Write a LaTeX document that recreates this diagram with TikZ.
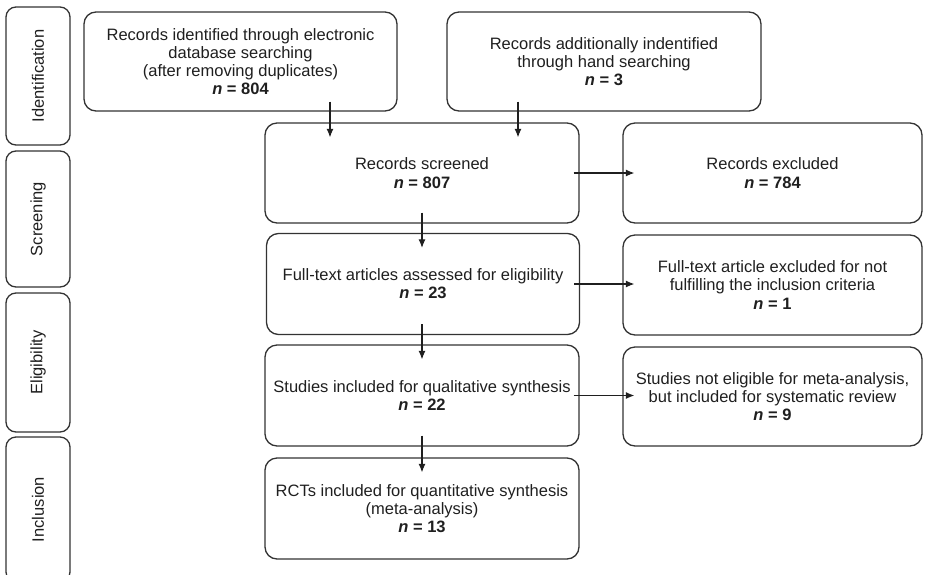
\documentclass[tikz,border=0pt]{standalone}
\usepackage{fontspec}
\setmainfont{Liberation Sans}
\usetikzlibrary{arrows.meta}
\newcommand{\nval}[1]{\textbf{\textit{n} = #1}}

\begin{document}
\begin{tikzpicture}[x=1pt,y=-1pt,
  box/.style={draw=black!80,line width=1.3pt,rounded corners=12pt,align=center,
    minimum width=314pt,minimum height=100pt,text=black!88,
    font=\fontsize{16.5}{18.2}\selectfont},
  side/.style={draw=black!80,line width=1.3pt,rounded corners=10pt,rotate=90,
    minimum height=64pt,text=black!88,font=\fontsize{16.5}{18.2}\selectfont},
  arr/.style={-{Latex[length=8.5pt,width=7pt]},line width=1.1pt,black!88}]
  \clip (0,0) rectangle (927,574);
  % stage tabs on the left
  \node[side,minimum width=138pt] (tid) at (38,76) {Identification};
  \node[side,minimum width=136pt] (tscr) at (38,219) {Screening};
  \node[side,minimum width=139pt] (telig) at (38,362.5) {Eligibility};
  \node[side,minimum width=145pt] (tincl) at (38,509.5) {Inclusion};
  % main column
  \node[box,minimum width=313pt,minimum height=99pt] (id1) at (240.5,61.5)
    {Records identified through electronic\\database searching\\(after removing duplicates)\\\nval{804}};
  \node[box,minimum height=99pt] (id2) at (604,61.5)
    {Records additionally indentified\\through hand searching\\\nval{3}};
  \node[box] (scr) at (422,173) {Records screened\\\nval{807}};
  \node[box,minimum width=313pt,minimum height=101pt] (full) at (423,284)
    {Full-text articles assessed for eligibility\\\nval{23}};
  \node[box,minimum height=101pt] (qual) at (422,395.5)
    {Studies included for qualitative synthesis\\\nval{22}};
  \node[box,minimum height=101pt] (rct) at (422,508.5)
    {RCTs included for quantitative synthesis\\(meta-analysis)\\\nval{13}};
  % excluded column
  \node[box,minimum width=299pt] (excl) at (772.5,173) {Records excluded\\\nval{784}};
  \node[box,minimum width=299pt] (excl2) at (772.5,285)
    {Full-text article excluded for not\\fulfilling the inclusion criteria\\\nval{1}};
  \node[box,minimum width=299pt,minimum height=99pt] (notel) at (772.5,396.5)
    {Studies not eligible for meta-analysis,\\but included for systematic review\\\nval{9}};
  % arrows
  \coordinate (xa) at (330,0);
  \coordinate (xb) at (518,0);
  \draw[arr] ([yshift=10pt]id1.south -| xa) -- ([yshift=-15pt]scr.north -| xa);
  \draw[arr] ([yshift=10pt]id2.south -| xb) -- ([yshift=-15pt]scr.north -| xb);
  \draw[arr] ([yshift=11pt]scr.south) -- ([yshift=-15pt]full.north -| scr.south);
  \draw[arr] ([yshift=11pt]full.south -| scr.south) -- ([yshift=-15pt]qual.north);
  \draw[arr] ([yshift=11pt]qual.south) -- ([yshift=-15pt]rct.north);
  \draw[arr] ([xshift=-6pt]scr.east) -- ([xshift=12pt]excl.west |- scr.east);
  \draw[arr] ([xshift=-6pt]full.east) -- ([xshift=12pt]excl2.west |- full.east);
  \draw[arr] ([xshift=-6pt]qual.east) -- ([xshift=12pt]notel.west |- qual.east);
\end{tikzpicture}
\end{document}
